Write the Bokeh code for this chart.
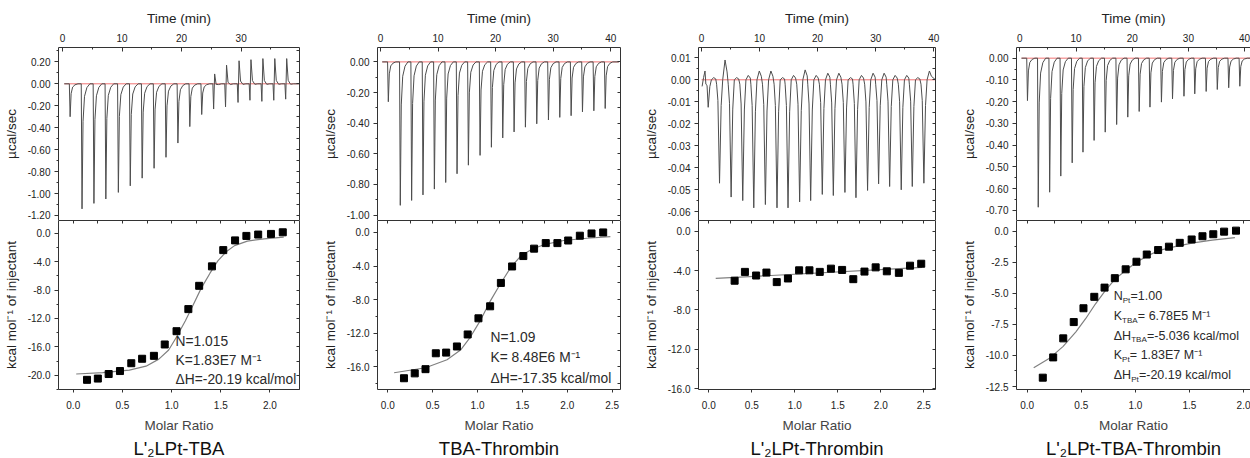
from bokeh.plotting import figure
from bokeh.models import Range1d, LinearAxis, FixedTicker, NumeralTickFormatter, Label, Title
from bokeh.layouts import row, column
from bokeh.embed import file_html
from bokeh.resources import INLINE

FONT = "Liberation Sans"
TXT = "#222222"
AXC = "#333333"
TRACE = "#4d4d4d"
BASE = "#ee5a5a"
FITC = "#808080"

# ---------------- Panel 1: L'2LPt-TBA ----------------
p1_inj_time = [1.2, 3.2, 5.2, 7.2, 9.3, 11.3, 13.3, 15.3, 17.3, 19.3, 21.3, 23.3, 25.3, 27.3, 29.4, 31.4, 33.4, 35.4, 37.4]
p1_inj_down = [-0.30, -1.14, -1.09, -1.05, -0.99, -0.93, -0.86, -0.77, -0.67, -0.54, -0.39, -0.28, -0.23, -0.21, -0.17, -0.15, -0.16, -0.15, -0.14]
p1_inj_up = [0, 0, 0, 0, 0, 0, 0, 0, 0, 0, 0, 0, 0.09, 0.17, 0.21, 0.22, 0.23, 0.23, 0.23]
p1_span = [0.3, 39.7]
p1_ratio = [0.14, 0.25, 0.36, 0.475, 0.59, 0.70, 0.82, 0.93, 1.05, 1.17, 1.28, 1.41, 1.525, 1.645, 1.76, 1.88, 2.01, 2.13]
p1_heat = [-20.64, -20.46, -19.82, -19.4, -18.3, -17.67, -17.26, -15.66, -13.79, -10.68, -7.40, -4.66, -2.37, -1.00, -0.37, -0.18, -0.09, 0.14]
p1_fit_ratio = [0.03, 0.30, 0.57, 0.74, 0.87, 0.97, 1.05, 1.14, 1.22, 1.30, 1.39, 1.47, 1.555, 1.64, 1.77, 1.94, 2.14]
p1_fit_heat = [-19.82, -19.63, -19.27, -18.72, -17.72, -16.44, -14.61, -12.33, -10.05, -7.76, -5.62, -3.88, -2.60, -1.74, -1.10, -0.78, -0.55]

# ---------------- Panel 2: TBA-Thrombin ----------------
p2_inj_time = [1.28, 3.36, 5.33, 7.30, 9.28, 11.25, 13.22, 15.19, 17.22, 19.19, 21.16, 23.13, 25.10, 27.07, 29.10, 31.07, 33.04, 35.01, 36.99, 38.96]
p2_inj_down = [-0.26, -0.936, -0.904, -0.868, -0.83, -0.787, -0.73, -0.674, -0.61, -0.557, -0.496, -0.457, -0.426, -0.404, -0.379, -0.362, -0.351, -0.326, -0.319, -0.304]
p2_inj_up = [0] * 20
p2_span = [0.3, 41.4]
p2_ratio = [0.18, 0.30, 0.42, 0.535, 0.65, 0.77, 0.89, 1.01, 1.14, 1.26, 1.385, 1.51, 1.63, 1.76, 1.89, 2.01, 2.14, 2.27, 2.40]
p2_heat = [-17.35, -16.77, -16.27, -14.38, -14.30, -13.57, -12.14, -10.22, -8.79, -6.01, -4.05, -2.81, -1.93, -1.27, -1.27, -0.96, -0.39, -0.12, 0.0]
p2_fit_ratio = [0.07, 0.42, 0.66, 0.81, 0.92, 1.03, 1.14, 1.255, 1.37, 1.48, 1.61, 1.74, 1.96, 2.22, 2.48]
p2_fit_heat = [-16.7, -16.1, -15.15, -14.0, -12.45, -10.5, -8.2, -6.1, -4.16, -2.81, -1.97, -1.46, -0.96, -0.69, -0.5]

# ---------------- Panel 3: L'2LPt-Thrombin ----------------
p3_lead_time = [0.1, 0.35, 0.6]
p3_lead_val = [-0.003, 0.001, 0.004]
p3_inj_time = [1.15, 3.1, 5.1, 7.1, 9.0, 11.0, 13.0, 14.9, 16.9, 18.8, 20.8, 22.7, 24.7, 26.6, 28.6, 30.5, 32.4, 34.4, 36.3, 38.3]
p3_inj_down = [-0.0125, -0.047, -0.0533, -0.0549, -0.0582, -0.0567, -0.0582, -0.0582, -0.0555, -0.0549, -0.0521, -0.0526, -0.0512, -0.0536, -0.0503, -0.0473, -0.0485, -0.050, -0.0485, -0.047]
p3_bump = [0.001, 0.009, 0.001, 0.002, 0.004, 0.004, 0.001, 0.002, 0.0045, 0.002, 0.003, 0.003, 0.001, 0.002, 0.003, 0.003, 0.002, 0.002, 0.001, 0.004]
p3_span = [0.0, 40.3]
p3_ratio = [0.30, 0.42, 0.55, 0.67, 0.79, 0.92, 1.05, 1.17, 1.29, 1.42, 1.55, 1.68, 1.81, 1.94, 2.07, 2.21, 2.34, 2.47]
p3_heat = [-5.03, -4.13, -4.5, -4.2, -5.17, -4.8, -3.97, -3.97, -4.13, -3.8, -3.93, -4.87, -4.1, -3.67, -4.07, -4.23, -3.5, -3.3]
p3_fit_ratio = [0.08, 2.48]
p3_fit_heat = [-4.8, -3.67]

# ---------------- Panel 4: L'2LPt-TBA-Thrombin ----------------
p4_inj_time = [1.28, 3.2, 5.23, 7.21, 9.24, 11.16, 13.14, 15.12, 17.15, 19.13, 21.16, 23.08, 25.12, 27.09, 29.13, 31.05, 33.08, 35.06, 37.09, 39.07]
p4_inj_down = [-0.195, -0.685, -0.616, -0.542, -0.481, -0.432, -0.378, -0.34, -0.305, -0.271, -0.245, -0.225, -0.202, -0.187, -0.175, -0.164, -0.153, -0.144, -0.136, -0.129]
p4_inj_up = [0] * 20
p4_span = [0.3, 41.0]
p4_ratio = [0.144, 0.24, 0.333, 0.43, 0.52, 0.62, 0.715, 0.81, 0.91, 1.01, 1.105, 1.21, 1.31, 1.41, 1.52, 1.62, 1.72, 1.82, 1.93]
p4_heat = [-11.79, -10.16, -8.63, -7.32, -6.21, -5.29, -4.55, -3.79, -3.08, -2.47, -1.89, -1.53, -1.26, -0.95, -0.68, -0.42, -0.26, -0.05, 0.03]
p4_fit_ratio = [0.06, 0.21, 0.33, 0.45, 0.54, 0.63, 0.72, 0.81, 0.92, 1.02, 1.13, 1.23, 1.385, 1.535, 1.71, 1.92]
p4_fit_heat = [-11.0, -10.2, -9.29, -8.1, -7.05, -5.87, -4.82, -3.89, -3.1, -2.45, -1.92, -1.53, -1.21, -0.95, -0.74, -0.53]

# ---------------- tick values ----------------
time_ticks_30 = [0, 10, 20, 30]
time_ticks_40 = [0, 10, 20, 30, 40]
p1_raw_ticks = [-1.2, -1.0, -0.8, -0.6, -0.4, -0.2, 0.0, 0.2]
p2_raw_ticks = [-1.0, -0.8, -0.6, -0.4, -0.2, 0.0]
p3_raw_ticks = [-0.06, -0.05, -0.04, -0.03, -0.02, -0.01, 0.0, 0.01]
p4_raw_ticks = [-0.7, -0.6, -0.5, -0.4, -0.3, -0.2, -0.1, 0.0]
heat_ticks_20 = [-20.0, -16.0, -12.0, -8.0, -4.0, 0.0]
heat_ticks_16 = [-16.0, -12.0, -8.0, -4.0, 0.0]
heat_ticks_12 = [-12.5, -10.0, -7.5, -5.0, -2.5, 0.0]
ratio_ticks_20 = [0.0, 0.5, 1.0, 1.5, 2.0]
ratio_ticks_25 = [0.0, 0.5, 1.0, 1.5, 2.0, 2.5]

titles = ["L'\u2082LPt-TBA", "TBA-Thrombin", "L'\u2082LPt-Thrombin", "L'\u2082LPt-TBA-Thrombin"]


def mids(ticks):
    t = sorted(ticks)
    step = t[1] - t[0]
    return [round(t[0] - step / 2, 6)] + [round(a + step / 2, 6) for a in t]


def spike_trace(span, times, downs, ups):
    xs, ys = [span[0]], [0.0]
    for t, d, u in zip(times, downs, ups):
        xs += [t - 0.05, t + 0.08, t + 0.25, t + 0.5, t + 0.9, t + 1.4]
        ys += [0.0, d, u if u else 0.3 * d, 0.1 * d + 0.2 * u, 0.03 * d, 0.0]
    xs.append(span[1])
    ys.append(0.0)
    return xs, ys


def broad_trace(lead_t, lead_y, times, downs, bumps, t_end):
    xs, ys = list(lead_t), list(lead_y)
    for i, (t, d, b) in enumerate(zip(times, downs, bumps)):
        pre = [t - 0.4, t - 0.2] if i == 0 else [t - 0.5, t - 0.28]
        xs += pre + [t, t + 0.28, t + 0.55, t + 0.95, t + 1.3]
        ys += [-0.002, 0.2 * d, d, 0.25 * d, 0.0, b, 0.4 * b]
    xs.append(t_end)
    ys.append(0.0)
    return xs, ys


def base_axis(ax):
    ax.axis_line_color = AXC
    ax.axis_line_width = 1
    ax.major_tick_line_color = AXC
    ax.minor_tick_line_color = AXC
    ax.major_label_text_font = FONT
    ax.major_label_text_font_size = "10px"
    ax.major_label_text_color = TXT
    ax.axis_label_text_font = FONT
    ax.axis_label_text_font_size = "13.5px"
    ax.axis_label_text_color = TXT
    ax.axis_label_text_font_style = "normal"


def plain_axis(ticks, length=3):
    ax = LinearAxis(ticker=FixedTicker(ticks=[], minor_ticks=sorted(set(ticks + mids(ticks)))))
    base_axis(ax)
    ax.major_tick_in = 0
    ax.major_tick_out = 0
    ax.minor_tick_in = length
    ax.minor_tick_out = 0
    ax.major_label_standoff = 0
    ax.axis_label_standoff = 0
    return ax


def make_top(xr, yr, tticks, yticks, yfmt, width, left, right, trace, span, with_right=True):
    p = figure(width=width, height=220, x_range=Range1d(*xr), y_range=Range1d(*yr),
               output_backend="svg", toolbar_location=None, title_location=None,
               x_axis_location="above", y_axis_location="left",
               min_border_left=left, min_border_right=right, min_border_top=47, min_border_bottom=0)
    p.outline_line_color = None
    p.grid.grid_line_color = None
    xa = p.xaxis[0]
    base_axis(xa)
    xa.ticker = FixedTicker(ticks=tticks, minor_ticks=mids(tticks))
    xa.formatter = NumeralTickFormatter(format="0")
    xa.axis_label = "Time (min)"
    xa.major_tick_in = 4
    xa.major_tick_out = 0
    xa.minor_tick_in = 2
    xa.minor_tick_out = 0
    xa.major_label_standoff = 6
    xa.axis_label_standoff = 5
    ya = p.yaxis[0]
    base_axis(ya)
    ya.ticker = FixedTicker(ticks=yticks, minor_ticks=mids(yticks))
    ya.formatter = NumeralTickFormatter(format=yfmt)
    ya.axis_label = "\u00b5cal/sec"
    ya.major_tick_in = 0
    ya.major_tick_out = 4
    ya.minor_tick_in = 0
    ya.minor_tick_out = 2
    ya.major_label_standoff = 4
    ya.axis_label_standoff = 6
    if with_right:
        p.add_layout(plain_axis(yticks), "right")
    p.line(span, [0, 0], line_color=BASE, line_width=1, line_alpha=0.85)
    p.line(trace[0], trace[1], line_color=TRACE, line_width=1)
    return p


def make_bottom(xr, yr, xticks, yticks, yfmt, width, left, right, bottom, title,
                ratio, heat, fit_r, fit_h, with_right=True):
    p = figure(width=width, height=238, x_range=Range1d(*xr), y_range=Range1d(*yr),
               output_backend="svg", toolbar_location=None, title_location=None,
               min_border_left=left, min_border_right=right, min_border_top=0, min_border_bottom=bottom)
    p.outline_line_color = None
    p.grid.grid_line_color = None
    xa = p.xaxis[0]
    base_axis(xa)
    xa.ticker = FixedTicker(ticks=xticks, minor_ticks=mids(xticks))
    xa.formatter = NumeralTickFormatter(format="0.0")
    xa.axis_label = "Molar Ratio"
    xa.axis_label_text_color = "#444444"
    xa.major_tick_in = 0
    xa.major_tick_out = 3
    xa.minor_tick_in = 0
    xa.minor_tick_out = 0
    xa.major_label_standoff = 8
    xa.axis_label_standoff = 6
    ya = p.yaxis[0]
    base_axis(ya)
    ya.ticker = FixedTicker(ticks=yticks, minor_ticks=mids(yticks))
    ya.formatter = NumeralTickFormatter(format=yfmt)
    ya.axis_label = "kcal mol\u207b\u00b9 of injectant"
    ya.major_tick_in = 0
    ya.major_tick_out = 4
    ya.minor_tick_in = 0
    ya.minor_tick_out = 2
    ya.major_label_standoff = 4
    ya.axis_label_standoff = 6
    p.add_layout(plain_axis(xticks), "above")
    if with_right:
        p.add_layout(plain_axis(yticks), "right")
    t = Title(text=title, align="center", text_font=FONT, text_font_size="18.5px",
              text_font_style="normal", text_color="#111111", standoff=0)
    p.add_layout(t, "below")
    p.line(fit_r, fit_h, line_color=FITC, line_width=1.2)
    p.scatter(ratio, heat, marker="square", size=7, fill_color="black", line_color="black")
    return p


def ann(p, x, y, text, dx=0, dy=0, size="13.8px"):
    p.add_layout(Label(x=x, y=y, text=text, x_offset=dx, y_offset=dy, text_font=FONT,
                       text_font_size=size, text_color="#2a2a2a", text_baseline="middle"))


# ---------------- build panels ----------------
t1 = make_top((-0.67, 39.8), (-1.246, 0.331), time_ticks_30, p1_raw_ticks, "0.00", 309, 55, 10,
              spike_trace(p1_span, p1_inj_time, p1_inj_down, p1_inj_up), p1_span)
b1 = make_bottom((-0.15, 2.30), (-22.0, 1.8), ratio_ticks_20, heat_ticks_20, "0.0", 309, 55, 10, 64,
                 titles[0], p1_ratio, p1_heat, p1_fit_ratio, p1_fit_heat)
ann(b1, 1.04, -15.2, "N=1.015")
ann(b1, 1.04, -17.9, "K=1.83E7 M\u207b\u00b9")
ann(b1, 1.04, -20.6, "\u0394H=-20.19 kcal/mol")

t2 = make_top((-0.52, 41.7), (-1.035, 0.094), time_ticks_40, p2_raw_ticks, "0.00", 321, 68, 10,
              spike_trace(p2_span, p2_inj_time, p2_inj_down, p2_inj_up), p2_span)
b2 = make_bottom((-0.115, 2.593), (-18.69, 1.42), ratio_ticks_25, heat_ticks_16, "0.0", 321, 68, 10, 64,
                 titles[1], p2_ratio, p2_heat, p2_fit_ratio, p2_fit_heat)
ann(b2, 1.144, -12.53, "N=1.09")
ann(b2, 1.144, -14.9, "K= 8.48E6 M\u207b\u00b9")
ann(b2, 1.144, -17.39, "\u0394H=-17.35 kcal/mol")

t3 = make_top((-0.52, 40.3), (-0.06395, 0.01468), time_ticks_40, p3_raw_ticks, "0.00", 315, 68, 10,
              broad_trace(p3_lead_time, p3_lead_val, p3_inj_time, p3_inj_down, p3_bump, p3_span[1]), p3_span)
b3 = make_bottom((-0.12, 2.636), (-16.1, 1.1), ratio_ticks_25, heat_ticks_16, "0.0", 315, 68, 10, 66,
                 titles[2], p3_ratio, p3_heat, p3_fit_ratio, p3_fit_heat)

t4 = make_top((-0.59, 41.05), (-0.746, 0.049), time_ticks_40, p4_raw_ticks, "0.00", 305, 71, 0,
              spike_trace(p4_span, p4_inj_time, p4_inj_down, p4_inj_up), p4_span, with_right=False)
b4 = make_bottom((-0.099, 2.064), (-12.74, 0.845), ratio_ticks_20, heat_ticks_12, "0.0", 305, 71, 0, 66,
                 titles[3], p4_ratio, p4_heat, p4_fit_ratio, p4_fit_heat, with_right=False)
ax4 = 0.80
fs4 = "12.5px"
ann(b4, ax4, -5.26, "N", size=fs4)
ann(b4, ax4, -5.26, "Pt", dx=9.0, dy=-4, size="8px")
ann(b4, ax4, -5.26, "=1.00", dx=16.8, size=fs4)
ann(b4, ax4, -6.84, "K", size=fs4)
ann(b4, ax4, -6.84, "TBA", dx=8.3, dy=-4, size="8px")
ann(b4, ax4, -6.84, "= 6.78E5 M\u207b\u00b9", dx=24.1, size=fs4)
ann(b4, ax4, -8.42, "\u0394H", size=fs4)
ann(b4, ax4, -8.42, "TBA", dx=17.4, dy=-4, size="8px")
ann(b4, ax4, -8.42, "=-5.036 kcal/mol", dx=33.2, size=fs4)
ann(b4, ax4, -10.0, "K", size=fs4)
ann(b4, ax4, -10.0, "Pt", dx=8.3, dy=-4, size="8px")
ann(b4, ax4, -10.0, "= 1.83E7 M\u207b\u00b9", dx=16.1, size=fs4)
ann(b4, ax4, -11.58, "\u0394H", size=fs4)
ann(b4, ax4, -11.58, "Pt", dx=17.4, dy=-4, size="8px")
ann(b4, ax4, -11.58, "=-20.19 kcal/mol", dx=25.2, size=fs4)

layout = row(column(t1, b1), column(t2, b2), column(t3, b3), column(t4, b4))

open("out.html", "w").write(file_html(layout, INLINE))
